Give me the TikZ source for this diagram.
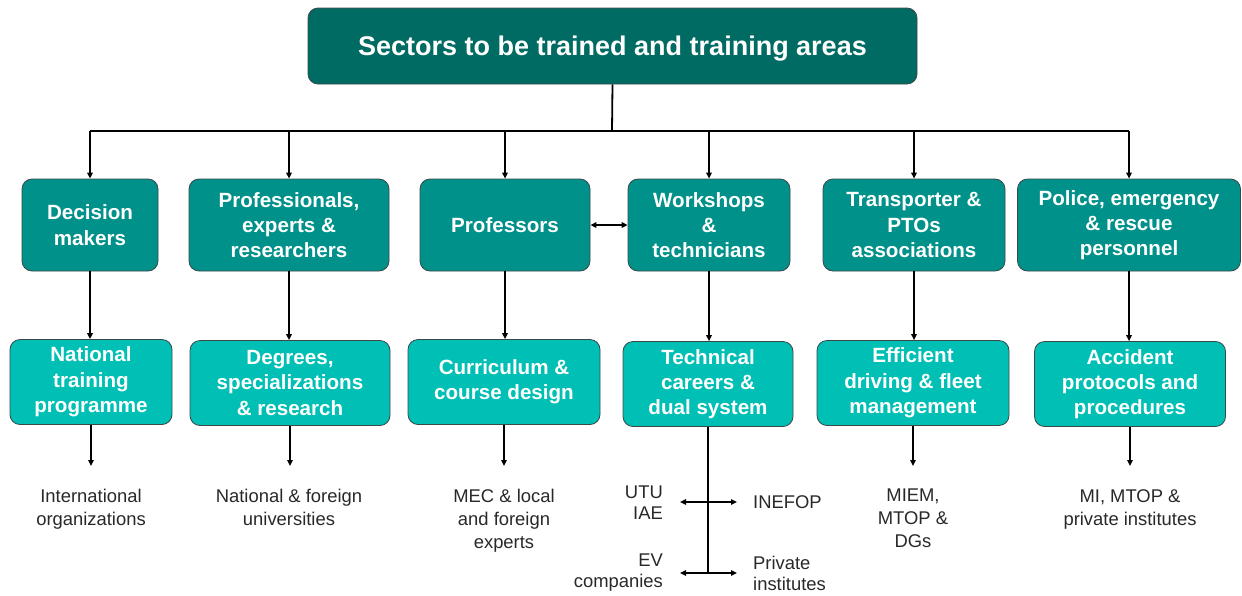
\documentclass[tikz,border=0pt]{standalone}
\usepackage{fontspec}
\setmainfont{Liberation Sans}
\usetikzlibrary{arrows.meta}
\definecolor{titlecol}{RGB}{0,107,99}
\definecolor{rowone}{RGB}{0,145,138}
\definecolor{rowtwo}{RGB}{0,191,180}
\definecolor{edgecol}{RGB}{60,72,72}
\definecolor{labcol}{RGB}{40,40,40}
\tikzset{
  boxbase/.style={draw=edgecol, line width=0.8pt, rounded corners=10pt, align=center, text=white, inner sep=0pt,
    font=\bfseries\fontsize{20.6}{25.3}\selectfont},
  titlebox/.style={boxbase, fill=titlecol, font=\bfseries\fontsize{27}{31}\selectfont},
  rowonebox/.style={boxbase, fill=rowone, minimum height=92pt},
  rowtwobox/.style={boxbase, fill=rowtwo, minimum height=85pt},
  lab/.style={align=center, text=labcol, inner xsep=0pt, inner ysep=23pt, anchor=north,
    font=\fontsize{18.4}{23}\selectfont},
  sidelab/.style={text=labcol, inner sep=0pt, font=\fontsize{18.4}{21}\selectfont},
  conn/.style={line width=1.4pt, black},
  arr/.style={conn, -{Triangle[length=6pt,width=5.5pt]}},
  darr/.style={conn, {Triangle[length=6pt,width=5.5pt]}-{Triangle[length=6pt,width=5.5pt]}}
}
\begin{document}
\begin{tikzpicture}[x=1pt,y=-1pt]
\useasboundingbox (0,0) rectangle (1242,595);
% title
\node[titlebox, minimum width=609pt, minimum height=76pt, text depth=0pt] (ti) at (612.5,46) {Sectors to be trained and training areas};
% row 1
\node[rowonebox, minimum width=136pt] (dm) at (90,225) {Decision\\makers};
\node[rowonebox, minimum width=200pt] (pe) at (289,225) {Professionals,\\experts \&\\researchers};
\node[rowonebox, minimum width=170pt] (pr) at (505,225) {Professors};
\node[rowonebox, minimum width=162pt] (wt) at (709,225) {Workshops\\\&\\technicians};
\node[rowonebox, minimum width=182pt] (tp) at (914,225) {Transporter \&\\PTOs\\associations};
\node[rowonebox, minimum width=223pt] (po) at (1129,225) {Police, emergency\\\& rescue\\personnel};
% row 2
\node[rowtwobox, minimum width=162pt] (nt) at (91,382) {National\\training\\programme};
\node[rowtwobox, minimum width=200pt] (dg) at (290,383) {Degrees,\\specializations\\\& research};
\node[rowtwobox, minimum width=192pt] (cc) at (504,382) {Curriculum \&\\course design};
\node[rowtwobox, minimum width=170pt] (tc) at (708,384) {Technical\\careers \&\\dual system};
\node[rowtwobox, minimum width=192pt] (ef) at (913,383) {Efficient\\driving \& fleet\\management};
\node[rowtwobox, minimum width=191pt] (ac) at (1130,384) {Accident\\protocols and\\procedures};
% bottom labels
\node[lab] (io) at (91,466) {International\\organizations};
\node[lab] (nf) at (289,466) {National \& foreign\\universities};
\node[lab] (me) at (504,466) {MEC \& local\\and foreign\\experts};
\node[lab] (mi) at (913,466) {MIEM,\\MTOP \&\\DGs};
\node[lab] (mt) at (1130,466) {MI, MTOP \&\\private institutes};
% tech splitter
\coordinate (s1) at (708,502);
\coordinate (s2) at (708,573);
\node[sidelab, anchor=east, align=right] (utu) at (663,503) {UTU\\IAE};
\node[sidelab, anchor=west, align=left] (ine) at (753,502) {INEFOP};
\node[sidelab, anchor=east, align=right] (ev) at (663,573) {EV\\companies};
\node[sidelab, anchor=west, align=left] (pi) at (753,573) {Private\\institutes};
% connectors from title
\coordinate (hub) at (612,131);
\draw[conn, line width=1.8pt] (ti.south) -- (hub);
\draw[conn] (dm.north |- hub) -- (po.north |- hub);
\foreach \n in {dm,pe,pr,wt,tp,po}{
  \draw[arr] (\n.north |- hub) -- (\n.north);
}
\draw[darr] (pr.east) -- (wt.west);
% row1 -> row2
\draw[arr] (dm.south) -- (dm.south |- nt.north);
\draw[arr] (pe.south) -- (pe.south |- dg.north);
\draw[arr] (pr.south) -- (pr.south |- cc.north);
\draw[arr] (wt.south) -- (wt.south |- tc.north);
\draw[arr] (tp.south) -- (tp.south |- ef.north);
\draw[arr] (po.south) -- (po.south |- ac.north);
% row2 -> labels
\draw[arr] (nt.south) -- (io.north);
\draw[arr] (dg.south) -- (dg.south |- nf.north);
\draw[arr] (cc.south) -- (me.north);
\draw[arr] (ef.south) -- (mi.north);
\draw[arr] (ac.south) -- (mt.north);
% tech
\draw[conn, line width=2pt] (tc.south) -- (s2);
\draw[arr, shorten >=17pt] (s1) -- (utu.east |- s1);
\draw[arr, shorten >=16pt] (s1) -- (ine.west);
\draw[arr, shorten >=17pt] (s2) -- (ev.east |- s2);
\draw[arr, shorten >=16pt] (s2) -- (pi.west |- s2);
\end{tikzpicture}
\end{document}
